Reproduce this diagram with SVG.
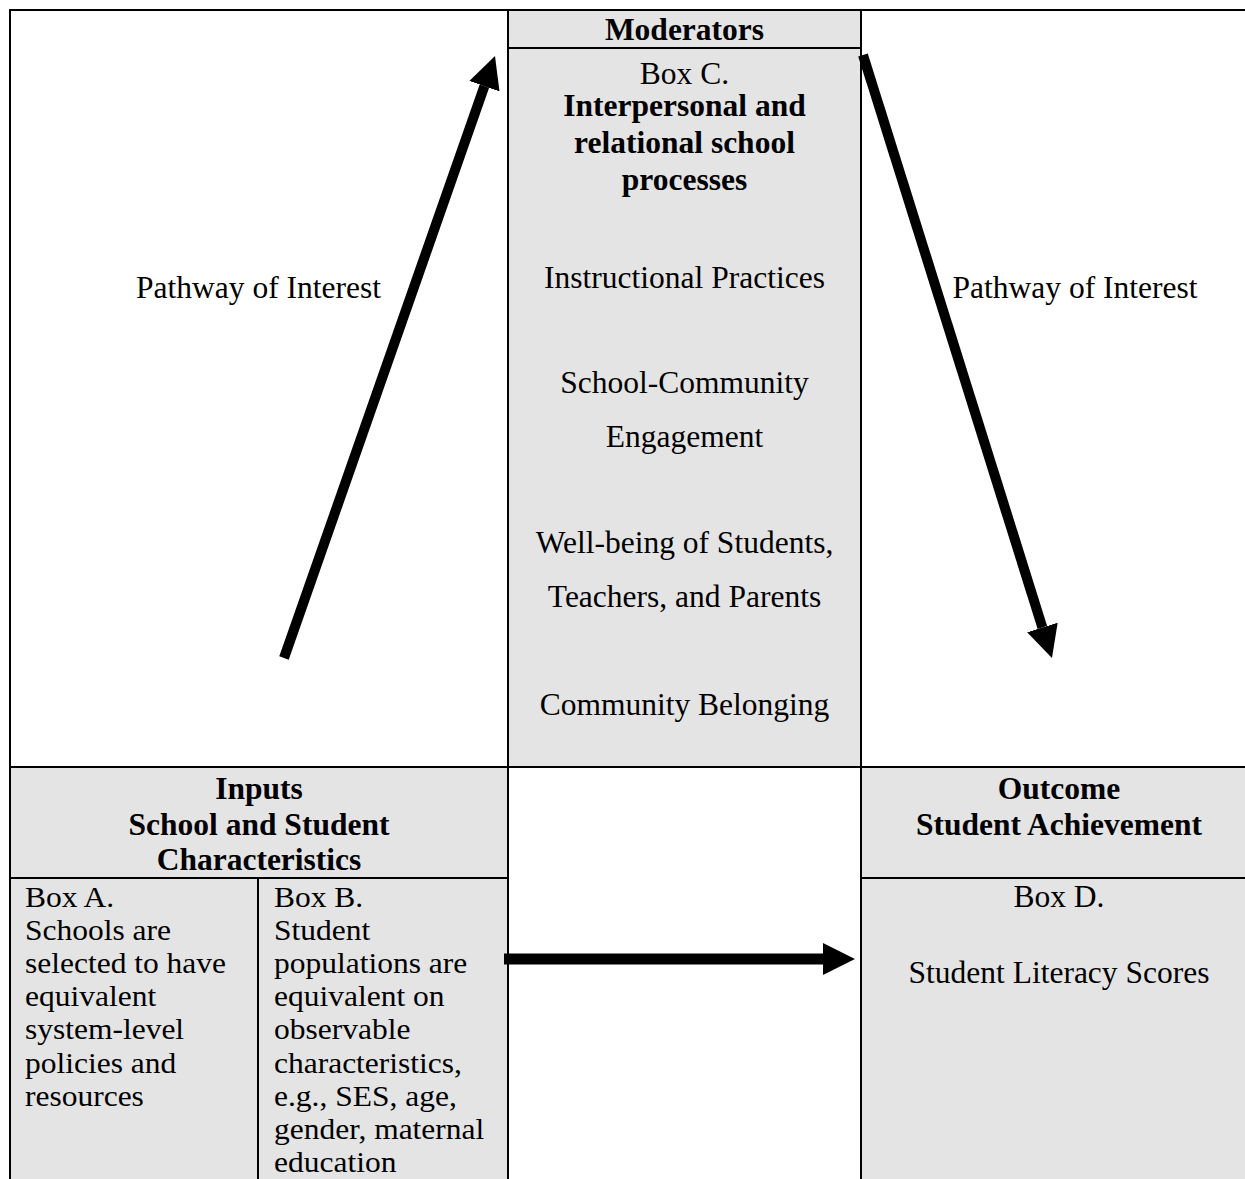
<svg xmlns="http://www.w3.org/2000/svg" width="1245" height="1179" viewBox="0 0 1245 1179">
<defs>
<style>
.cell{fill:#e4e4e4;stroke:none}
.ln{stroke:#000;stroke-width:2;fill:none}
text{font-family:"Liberation Serif","Times New Roman",serif;font-size:31.5px;fill:#000}
.c{text-anchor:middle}
.b{font-weight:bold}
.arrow{stroke:#000;fill:none;marker-end:url(#head)}
</style>
<marker id="head" markerUnits="userSpaceOnUse" viewBox="0 0 32 32" refX="0" refY="16" markerWidth="32" markerHeight="32" orient="auto">
<path d="M0,0 L32,16 L0,32 Z" fill="#000"/>
</marker>
</defs>
<rect width="1245" height="1179" fill="#fff"/>

<g id="moderators">
<rect class="cell" x="508" y="10" width="353" height="757"/>
<line class="ln" x1="508" y1="48" x2="861" y2="48"/>
<text class="c b" x="684.5" y="40">Moderators</text>
<text class="c" x="684.5" y="84">Box C.</text>
<text class="c b" x="684.5" y="116">Interpersonal and</text>
<text class="c b" x="684.5" y="153">relational school</text>
<text class="c b" x="684.5" y="190">processes</text>
<text class="c" x="684.5" y="288">Instructional Practices</text>
<text class="c" x="684.5" y="393">School-Community</text>
<text class="c" x="684.5" y="447">Engagement</text>
<text class="c" x="684.5" y="553">Well-being of Students,</text>
<text class="c" x="684.5" y="607">Teachers, and Parents</text>
<text class="c" x="684.5" y="715">Community Belonging</text>
</g>

<g id="inputs">
<rect class="cell" x="10" y="767" width="498" height="412"/>
<line class="ln" x1="10" y1="878" x2="508" y2="878"/>
<text class="c b" x="259" y="799">Inputs</text>
<text class="c b" x="259" y="835">School and Student</text>
<text class="c b" x="259" y="870">Characteristics</text>
</g>

<g id="box-a">
<text transform="translate(25,907) scale(1,0.92)">Box A.</text>
<text transform="translate(25,940) scale(1,0.92)">Schools are</text>
<text transform="translate(25,973) scale(1,0.92)">selected to have</text>
<text transform="translate(25,1006) scale(1,0.92)">equivalent</text>
<text transform="translate(25,1039) scale(1,0.92)">system-level</text>
<text transform="translate(25,1073) scale(1,0.92)">policies and</text>
<text transform="translate(25,1106) scale(1,0.92)">resources</text>
</g>

<g id="box-b">
<line class="ln" x1="258" y1="878" x2="258" y2="1179"/>
<text transform="translate(274,907) scale(1,0.92)">Box B.</text>
<text transform="translate(274,940) scale(1,0.92)">Student</text>
<text transform="translate(274,973) scale(1,0.92)">populations are</text>
<text transform="translate(274,1006) scale(1,0.92)">equivalent on</text>
<text transform="translate(274,1039) scale(1,0.92)">observable</text>
<text transform="translate(274,1073) scale(1,0.92)">characteristics,</text>
<text transform="translate(274,1106) scale(1,0.92)">e.g., SES, age,</text>
<text transform="translate(274,1139) scale(1,0.92)">gender, maternal</text>
<text transform="translate(274,1172) scale(1,0.92)">education</text>
</g>

<g id="outcome">
<rect class="cell" x="861" y="767" width="384" height="412"/>
<line class="ln" x1="861" y1="878" x2="1245" y2="878"/>
<text class="c b" x="1059" y="799">Outcome</text>
<text class="c b" x="1059" y="835">Student Achievement</text>
<text class="c" x="1059" y="907">Box D.</text>
<text class="c" x="1059" y="983">Student Literacy Scores</text>
</g>

<g id="frame">
<line class="ln" x1="9" y1="10" x2="1245" y2="10"/>
<line class="ln" x1="10" y1="9" x2="10" y2="1179"/>
<line class="ln" x1="508" y1="10" x2="508" y2="1179"/>
<line class="ln" x1="861" y1="10" x2="861" y2="1179"/>
<line class="ln" x1="10" y1="767" x2="1245" y2="767"/>
</g>

<g id="labels">
<text class="c" x="258.5" y="298">Pathway of Interest</text>
<text class="c" x="1075" y="298">Pathway of Interest</text>
</g>

<g id="connectors">
<line class="arrow" stroke-width="10" x1="284" y1="658" x2="484.4" y2="86.2"/>
<line class="arrow" stroke-width="10" x1="863" y1="55" x2="1042.4" y2="627.5"/>
<line class="arrow" stroke-width="11" x1="504" y1="959" x2="823" y2="959"/>
</g>
</svg>
